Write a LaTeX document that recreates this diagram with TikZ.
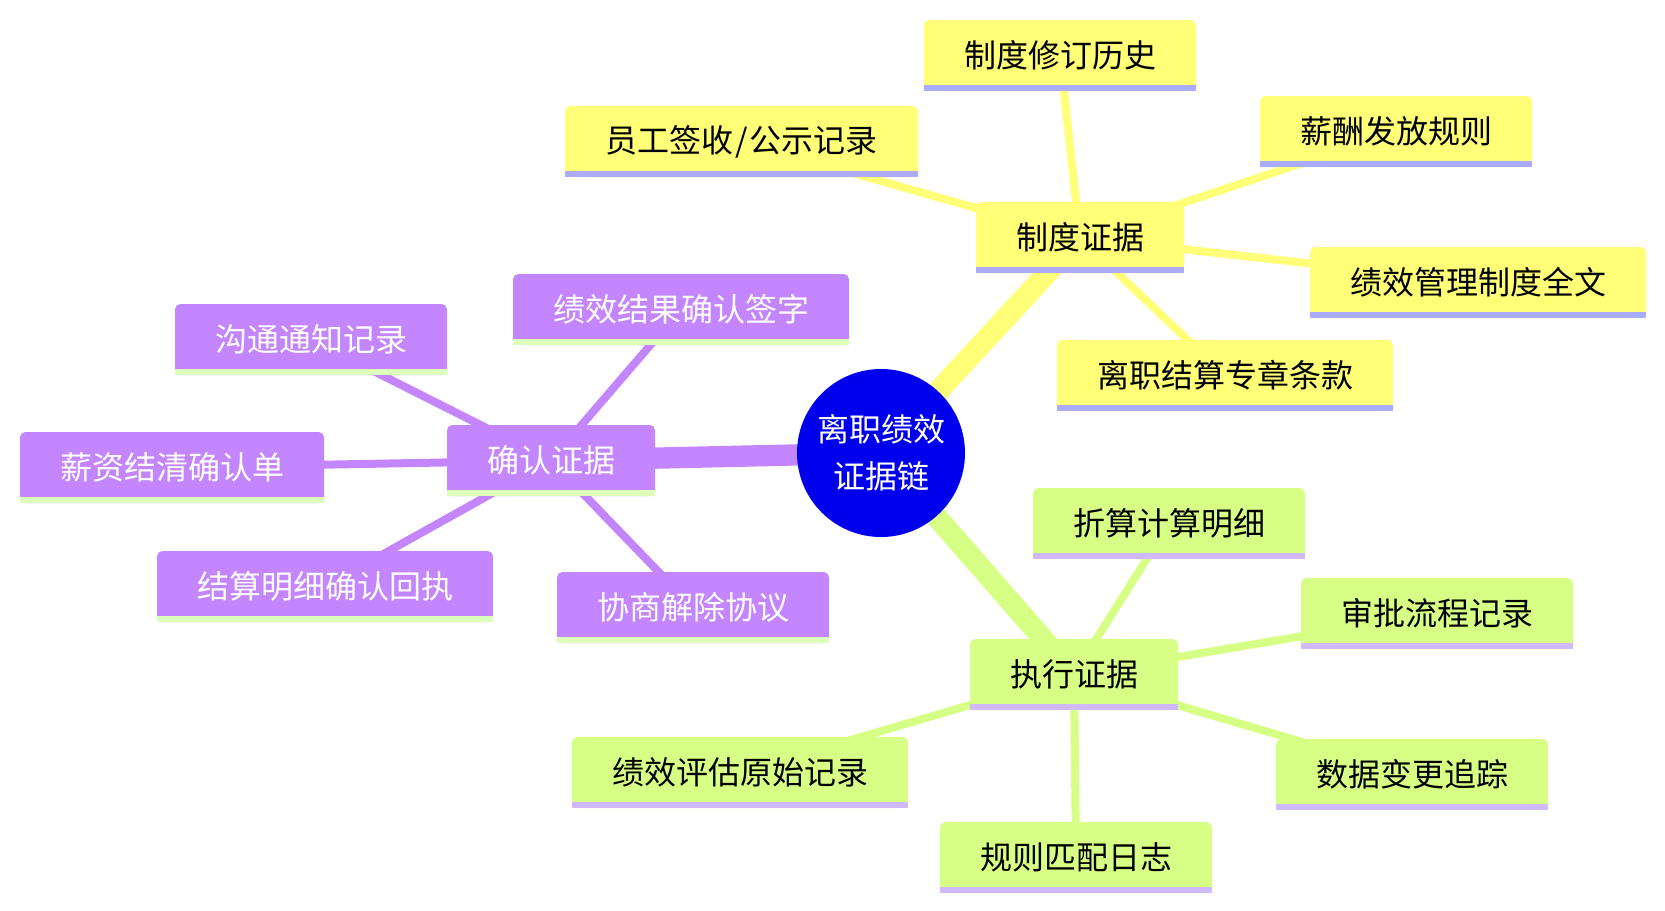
\documentclass[tikz,border=0pt]{standalone}
\usepackage{fontspec}
\newfontfamily\cjk{Noto Sans CJK SC}
\pgfdeclarelayer{bg}
\pgfsetlayers{bg,main}
\definecolor{yfill}{HTML}{FFFF78}
\definecolor{yline}{HTML}{ABABFF}
\definecolor{ytext}{HTML}{000000}
\definecolor{gfill}{HTML}{D7FF86}
\definecolor{gline}{HTML}{D0B9FF}
\definecolor{gtext}{HTML}{000000}
\definecolor{pfill}{HTML}{C386FF}
\definecolor{pline}{HTML}{DCFFB9}
\definecolor{ptext}{HTML}{FFFFFF}
\definecolor{rootblue}{HTML}{0000EC}
\tikzset{
  mmbox/.style={rectangle, rounded corners=4pt, minimum height=53.25pt, inner sep=0pt,
    font=\cjk\fontsize{24}{28}\selectfont},
  rootedge/.style={line width=16pt},
  leafedge/.style={line width=6pt},
}
\newcommand\mmbox[6]{%
  \node[mmbox,fill=#5fill,text=#5text,minimum width=#4*0.75pt] (#1) at (#2,#3+35.5) {#6};
  \fill[#5line] (#1.south west) rectangle ([yshift=4.5pt]#1.south east);
}
\begin{document}
\begin{tikzpicture}[x=0.75pt,y=-0.75pt]
\useasboundingbox (0,0) rectangle (1665,910);
\node[circle,fill=rootblue,minimum size=126pt,inner sep=0pt,text=white,align=center,
  font=\cjk\fontsize{24}{35.25}\selectfont] (root) at (881,453) {离职绩效\\证据链};
% branches
\mmbox{b1}{1080}{202}{208}{y}{制度证据}
\mmbox{b2}{551}{425}{208}{p}{确认证据}
\mmbox{b3}{1074}{639}{208}{g}{执行证据}
% yellow leaves
\mmbox{y1}{741.5}{106}{353}{y}{员工签收\hspace{0.05em}/\hspace{0.05em}公示记录}
\mmbox{y2}{1060}{20}{272}{y}{制度修订历史}
\mmbox{y3}{1396}{96}{272}{y}{薪酬发放规则}
\mmbox{y4}{1478}{247}{336}{y}{绩效管理制度全文}
\mmbox{y5}{1225}{340}{336}{y}{离职结算专章条款}
% purple leaves
\mmbox{p1}{681}{274}{336}{p}{绩效结果确认签字}
\mmbox{p2}{311}{304}{272}{p}{沟通通知记录}
\mmbox{p3}{172}{432}{304}{p}{薪资结清确认单}
\mmbox{p4}{325}{551}{336}{p}{结算明细确认回执}
\mmbox{p5}{693}{572}{272}{p}{协商解除协议}
% green leaves
\mmbox{g1}{1169}{488}{272}{g}{折算计算明细}
\mmbox{g2}{1437}{578}{272}{g}{审批流程记录}
\mmbox{g3}{1412}{739}{272}{g}{数据变更追踪}
\mmbox{g4}{740}{737}{336}{g}{绩效评估原始记录}
\mmbox{g5}{1076}{822}{272}{g}{规则匹配日志}
\begin{pgfonlayer}{bg}
\draw[rootedge,yfill] (root.center) -- (b1.center);
\draw[rootedge,pfill] (root.center) -- (b2.center);
\draw[rootedge,gfill] (root.center) -- (b3.center);
\foreach \n in {y1,y2,y3,y4,y5} \draw[leafedge,yfill] (b1.center) -- (\n.center);
\foreach \n in {p1,p2,p3,p4,p5} \draw[leafedge,pfill] (b2.center) -- (\n.center);
\foreach \n in {g1,g2,g3,g4,g5} \draw[leafedge,gfill] (b3.center) -- (\n.center);
\end{pgfonlayer}
\end{tikzpicture}
\end{document}
